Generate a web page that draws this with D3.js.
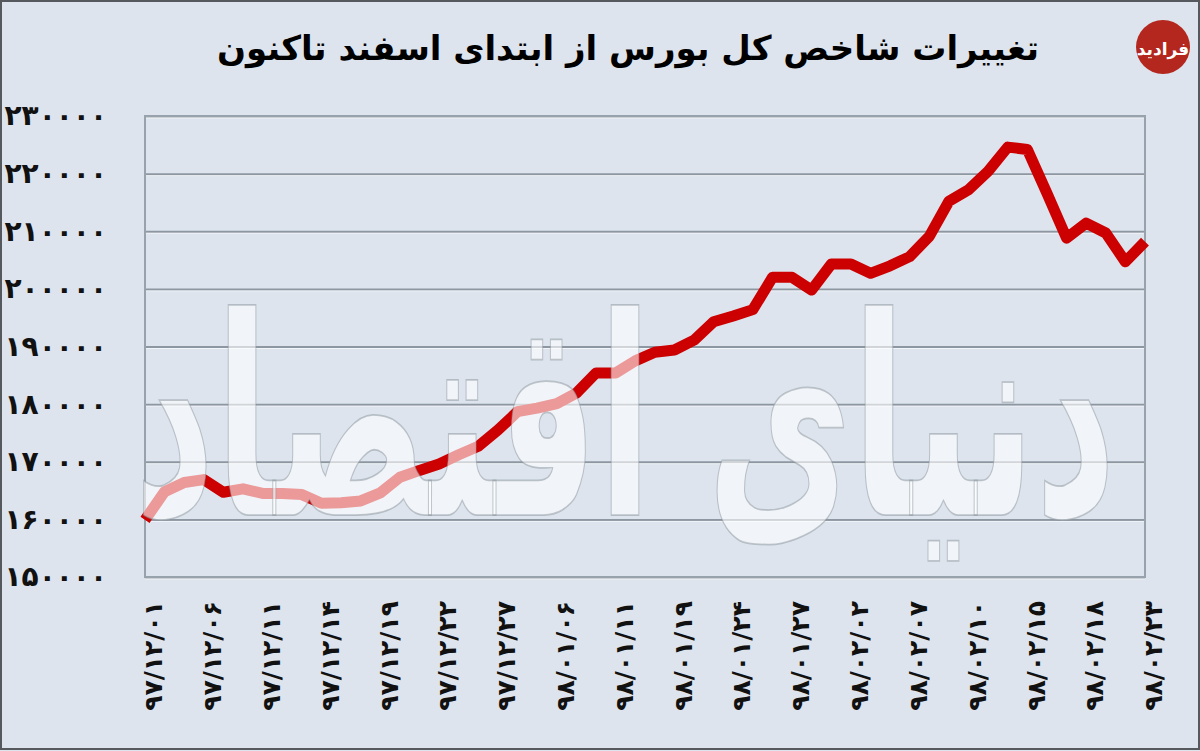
<!DOCTYPE html>
<html><head><meta charset="utf-8">
<script src="https://cdn.jsdelivr.net/npm/d3@7"></script>
<style>
html,body{margin:0;padding:0;background:#dde4ed;}
svg{display:block;}
</style></head>
<body>
<svg id="chart" width="1200" height="751"></svg>
<script>
// ---- data ----
const title = "تغییرات شاخص کل بورس از ابتدای اسفند تاکنون";
const tickLabels = ["۹۷/۱۲/۰۱","۹۷/۱۲/۰۶","۹۷/۱۲/۱۱","۹۷/۱۲/۱۴","۹۷/۱۲/۱۹","۹۷/۱۲/۲۲","۹۷/۱۲/۲۷","۹۸/۰۱/۰۶","۹۸/۰۱/۱۱","۹۸/۰۱/۱۹","۹۸/۰۱/۲۴","۹۸/۰۱/۲۷","۹۸/۰۲/۰۲","۹۸/۰۲/۰۷","۹۸/۰۲/۱۰","۹۸/۰۲/۱۵","۹۸/۰۲/۱۸","۹۸/۰۲/۲۳"];
const labelEvery = 3;
const indexValues = [159900,164800,166400,166900,164700,165300,164500,164500,164300,162800,
  162900,163200,164600,167300,168500,169600,171200,172700,175500,178700,
  179300,180100,181900,185400,185400,187500,189000,189400,191100,194300,
  195300,196400,202000,202000,199800,204300,204300,202700,204000,205600,
  209100,215200,217200,220400,224600,224200,216600,208800,211400,209700,
  204700,208200];
const yTicks = [150000,160000,170000,180000,190000,200000,210000,220000,230000];
const watermark = "دنیای اقتصاد";
const logoText = "فرادید";

// ---- helpers ----
const fa = s => String(s).replace(/[0-9]/g, d => "۰۱۲۳۴۵۶۷۸۹"[+d]);

const svg = d3.select("#chart");
const W = 1200, H = 751;
const m = {left:145, right:1145, top:116, bottom:577};

svg.append("rect").attr("x",0).attr("y",0).attr("width",W).attr("height",H).attr("fill","#dde4ed");
svg.append("rect").attr("x",1).attr("y",1).attr("width",W-2).attr("height",H-3)
  .attr("fill","none").attr("stroke","#55595e").attr("stroke-width",2);

const x = d3.scaleLinear().domain([0, indexValues.length-1]).range([m.left, m.right]);
const y = d3.scaleLinear().domain([150000, 230000]).range([m.bottom, m.top]);

// grid
const grid = svg.append("g").attr("transform",`translate(${m.left},0)`)
  .call(d3.axisLeft(y).tickValues(yTicks).tickSize(-(m.right-m.left)).tickFormat(""));
grid.select(".domain").remove();
grid.selectAll("line").attr("stroke","#8d97a2").attr("stroke-width",2);
const gridHi = svg.append("g").attr("transform",`translate(${m.left},1.5)`)
  .call(d3.axisLeft(y).tickValues(yTicks).tickSize(-(m.right-m.left)).tickFormat(""));
gridHi.select(".domain").remove();
gridHi.selectAll("line").attr("stroke","#ffffff").attr("stroke-opacity",0.6).attr("stroke-width",1);

// plot frame
svg.append("rect").attr("x",m.left).attr("y",m.top).attr("width",m.right-m.left).attr("height",m.bottom-m.top)
  .attr("fill","none").attr("stroke","#98a2ac").attr("stroke-width",2);

// y labels
const ya = svg.append("g").attr("transform",`translate(107,0)`)
  .call(d3.axisLeft(y).tickValues(yTicks).tickSize(0).tickPadding(0).tickFormat(d => fa(d)));
ya.select(".domain").remove();
ya.selectAll("text").attr("font-family","DejaVu Sans").attr("font-weight","bold")
  .attr("font-size",28).attr("fill","#111").attr("text-anchor","end");

// x labels
const xa = svg.append("g").attr("transform",`translate(0,${m.bottom})`)
  .call(d3.axisBottom(x).tickValues(d3.range(0, indexValues.length, labelEvery))
    .tickSize(0).tickFormat(i => tickLabels[i/labelEvery]));
xa.select(".domain").remove();
xa.selectAll("text")
  .attr("font-family","DejaVu Sans").attr("font-weight","bold").attr("font-size",25).attr("fill","#111")
  .attr("text-anchor","end").attr("dy","0.35em").attr("dx",0)
  .attr("transform","translate(8,24) rotate(-90)")
  .attr("x",0).attr("y",0);

// line
const line = d3.line().x((d,i) => x(i)).y(d => y(d));
svg.append("path").datum(indexValues).attr("d",line)
  .attr("fill","none").attr("stroke","#cc0000").attr("stroke-width",11)
  .attr("stroke-linejoin","round").attr("stroke-linecap","butt");

// watermark
svg.append("text").text(watermark)
  .attr("transform","translate(625,515) scale(1,1.75)")
  .attr("x",0).attr("y",0).attr("text-anchor","middle")
  .attr("font-family","DejaVu Sans").attr("font-weight","bold").attr("font-size",158)
  .attr("fill","#ffffff").attr("fill-opacity",0.6)
  .attr("stroke","#8a939c").attr("stroke-opacity",0.5).attr("stroke-width",1);

// title
svg.append("text").text(title)
  .attr("x",628).attr("y",60).attr("text-anchor","middle")
  .attr("font-family","DejaVu Sans").attr("font-weight","bold").attr("font-size",34).attr("fill","#000");

// logo
svg.append("circle").attr("cx",1163).attr("cy",47).attr("r",27).attr("fill","#b3271f");
svg.append("text").text(logoText).attr("x",1163).attr("y",55).attr("text-anchor","middle")
  .attr("font-family","DejaVu Sans").attr("font-weight","bold").attr("font-size",17).attr("fill","#fff");
</script>
</body></html>
